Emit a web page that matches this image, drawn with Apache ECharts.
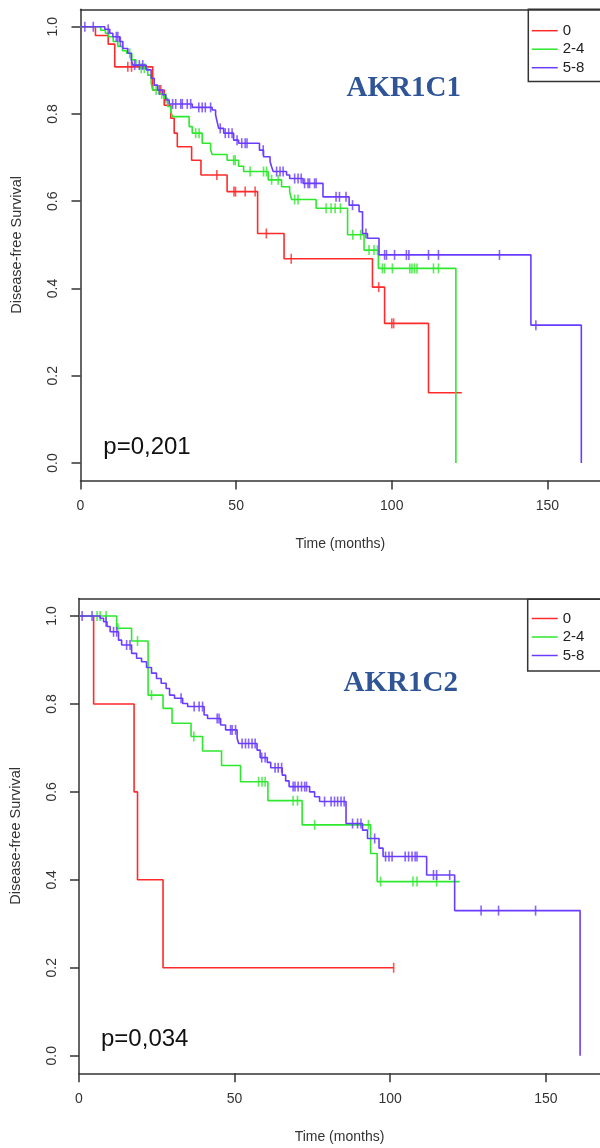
<!DOCTYPE html>
<html><head><meta charset="utf-8">
<script src="https://cdn.jsdelivr.net/npm/echarts@6/dist/echarts.min.js"></script>
<style>html,body{margin:0;padding:0;background:#fff;overflow:hidden}#c{width:600px;height:1148px}</style>
</head><body><div id="c"></div><script>
// ---------- DATA (time in months, survival probability) ----------
const groupNames = ['0', '2-4', '5-8'];
const yTicks = [0, 0.2, 0.4, 0.6, 0.8, 1.0];
const xTicks = [0, 50, 100, 150];
const titles = ['AKR1C1', 'AKR1C2'];
const pValues = ['p=0,201', 'p=0,034'];

// AKR1C1 panel
const c1Red = [[0,1],[4.8,0.98],[8.9,0.96],[11.0,0.908],[23.2,0.855],[26.9,0.82],[29.0,0.79],[30.1,0.756],[31.1,0.725],[35.7,0.694],[38.7,0.66],[47.1,0.622],[56.9,0.526],[65.4,0.468],[93.8,0.403],[97.7,0.32],[111.8,0.161],[122.5,0.161]];
const c1RedCens = [15.2,16.4,25.8,43.8,49.3,49.8,52.9,56.1,59.7,67.7,95.8,100.0,100.6];
const c1Green = [[0,1],[6.5,0.992],[8.0,0.985],[9.0,0.977],[10.5,0.966],[12.0,0.955],[13.5,0.945],[14.8,0.939],[16.5,0.924],[17.8,0.912],[19.0,0.905],[21.6,0.889],[22.7,0.870],[23.2,0.855],[25.3,0.846],[26.9,0.836],[28.0,0.817],[29.0,0.805],[29.6,0.794],[34.9,0.771],[35.9,0.756],[39.1,0.733],[41.8,0.718],[42.3,0.707],[47.1,0.694],[50.8,0.68],[52.4,0.668],[60.3,0.649],[64.6,0.633],[67.2,0.622],[67.8,0.604],[75.7,0.584],[85.8,0.523],[91.1,0.488],[95.7,0.446],[120.6,0.446],[120.6,0]];
const c1GreenCens = [15.8,19.5,20.5,24.3,26.1,27.4,37.0,38.1,49.2,49.7,54.5,58.8,59.8,61.4,63.5,68.8,69.9,78.9,80.5,81.8,83.5,87.5,90.0,92.7,94.3,95.4,97.0,97.7,100.2,105.8,106.5,107.3,108.1,113.4,115.0];
const c1Blue = [[0,1],[7.8,0.994],[9.4,0.985],[10.4,0.977],[12.6,0.966],[13.6,0.95],[15.2,0.939],[16.3,0.924],[16.8,0.912],[21.1,0.901],[22.7,0.882],[23.7,0.866],[24.8,0.855],[26.4,0.844],[27.4,0.832],[28.5,0.823],[35.9,0.815],[42.3,0.809],[43.4,0.798],[43.9,0.782],[44.4,0.767],[46.0,0.756],[49.2,0.74],[50.8,0.733],[57.5,0.717],[58.8,0.702],[60.9,0.691],[61.4,0.679],[61.9,0.668],[66.2,0.66],[67.2,0.652],[71.5,0.641],[77.9,0.61],[86.3,0.591],[89.5,0.576],[90.6,0.526],[92.2,0.515],[95.9,0.477],[144.7,0.316],[160.9,0.316],[160.9,0]];
const c1BlueCens = [1.4,4.1,8.9,11.5,12.0,12.8,17.4,18.9,20.0,25.3,29.6,30.6,32.2,32.7,34.3,35.4,38.0,39.1,40.1,41.8,44.9,46.5,47.6,48.7,50.3,51.8,52.9,53.5,58.7,63.0,64.1,65.1,68.8,69.9,70.9,72.0,73.1,73.6,75.2,75.7,82.1,83.2,85.3,87.4,91.7,97.7,98.3,100.9,104.7,105.5,111.8,115.0,134.6,146.3];

// AKR1C2 panel
const c2Red = [[0,1],[4.7,0.8],[17.7,0.6],[18.8,0.4],[27.0,0.2],[101.1,0.2]];
const c2RedCens = [101.1];
const c2Green = [[0,1],[12.1,0.972],[16.9,0.943],[22.2,0.82],[27.0,0.79],[29.9,0.756],[36.0,0.726],[39.7,0.693],[45.8,0.66],[51.9,0.623],[60.7,0.58],[71.7,0.525],[93.7,0.46],[95.8,0.396],[122.3,0.396]];
const c2GreenCens = [5.8,6.8,8.7,12.5,18.8,23.3,36.9,57.7,58.8,59.8,68.8,70.2,75.7,93.0,96.9,107.3,108.6,114.9];
const c2Blue = [[0,1],[6.8,0.995],[7.9,0.987],[9.0,0.976],[10.0,0.964],[12.7,0.945],[13.7,0.934],[16.9,0.915],[18.5,0.904],[20.1,0.896],[21.7,0.883],[23.3,0.87],[24.9,0.858],[26.4,0.847],[28.0,0.835],[29.1,0.82],[30.7,0.813],[33.3,0.801],[34.9,0.794],[40.2,0.775],[41.3,0.767],[45.5,0.752],[47.1,0.741],[50.8,0.722],[51.3,0.71],[57.2,0.695],[58.2,0.678],[60.5,0.667],[61.6,0.655],[65.3,0.638],[66.4,0.625],[67.5,0.612],[74.1,0.6],[75.7,0.589],[77.3,0.578],[85.8,0.528],[91.1,0.513],[92.7,0.494],[96.4,0.472],[97.7,0.453],[111.7,0.411],[120.7,0.33],[161.0,0.33],[161.0,0]];
const c2BlueCens = [1.0,4.2,8.7,11.1,12.1,15.3,16.4,32.8,37.0,38.6,39.7,44.4,45.0,48.7,49.2,50.3,52.4,53.5,54.5,55.6,56.6,58.7,59.8,63.0,64.0,65.1,68.8,69.4,70.4,71.5,72.5,73.1,78.9,81.0,82.1,83.1,84.2,85.2,87.9,89.5,90.6,95.0,98.5,99.6,100.6,104.8,105.9,107.0,108.0,108.6,113.9,114.9,119.1,129.2,134.8,146.7];

// ---------- STYLE / LAYOUT ----------
const colors = ['#ff2a2a', '#2ee82e', '#6a3cff'];
const FONT = '"Liberation Sans", Arial, sans-serif';
const panels = [
  {curves:[c1Red,c1Green,c1Blue], cens:[c1RedCens,c1GreenCens,c1BlueCens], left:80.5, top:9.25, height:471.2, width:522.5, xmax:166.9,
   title:[403.7,89], p:[103.3,447], legendTop:23.2, box:[528.3,9.3,90,72.2]},
  {curves:[c2Red,c2Green,c2Blue], cens:[c2RedCens,c2GreenCens,c2BlueCens], left:78.3, top:598.4, height:474.9, width:524.7, xmax:167.4,
   title:[400.8,683.7], p:[101,1039.5], legendTop:611, box:[527.7,599.3,90,71.7]}
];

function survAt(curve, t) {
  let s = curve[0][1];
  for (const [tt, v] of curve) { if (tt <= t) s = v; else break; }
  return s;
}

const grid = [], xAxis = [], yAxis = [], series = [], legend = [], graphic = [];
panels.forEach((P, i) => {
  grid.push({left: P.left, top: P.top, width: P.width, height: P.height});
  xAxis.push({
    gridIndex: i, type: 'value', min: 0, max: P.xmax, position: 'bottom',
    axisLine: {show: true, onZero: false, lineStyle: {color: '#333', width: 1.5}},
    axisTick: {show: true, length: 9, customValues: xTicks, lineStyle: {color: '#333', width: 1.5}},
    axisLabel: {customValues: xTicks, margin: 19, fontSize: 14, color: '#333', fontFamily: FONT},
    splitLine: {show: false},
    name: 'Time (months)', nameLocation: 'middle', nameGap: 57,
    nameTextStyle: {fontSize: 14, color: '#333', fontFamily: FONT}
  });
  xAxis.push({
    gridIndex: i, type: 'value', min: 0, max: P.xmax, position: 'top',
    axisLine: {show: true, onZero: false, lineStyle: {color: '#333', width: 1.5}},
    axisTick: {show: false}, axisLabel: {show: false}, splitLine: {show: false}
  });
  yAxis.push({
    gridIndex: i, type: 'value', min: -0.04, max: 1.04,
    axisLine: {show: true, onZero: false, lineStyle: {color: '#333', width: 1.5}},
    axisTick: {show: true, length: 9, customValues: yTicks, lineStyle: {color: '#333', width: 1.5}},
    axisLabel: {customValues: yTicks, rotate: 90, margin: 20, fontSize: 14, color: '#333', fontFamily: FONT,
      formatter: v => v.toFixed(1)},
    splitLine: {show: false},
    name: 'Disease-free Survival', nameLocation: 'middle', nameGap: 56,
    nameTextStyle: {fontSize: 14.5, color: '#333', fontFamily: FONT}
  });
  P.curves.forEach((curve, k) => {
    series.push({
      name: groupNames[k], type: 'line', step: 'end', xAxisIndex: 2 * i, yAxisIndex: i,
      data: curve, showSymbol: false, symbol: 'none', color: colors[k],
      lineStyle: {color: colors[k], width: 1.6}, animation: false, z: 2 + k
    });
    series.push({
      name: groupNames[k] + ' censored', type: 'scatter', xAxisIndex: 2 * i, yAxisIndex: i,
      data: P.cens[k].map(t => [t, survAt(curve, t)]),
      symbol: 'rect', symbolSize: [1.6, 10], itemStyle: {color: colors[k]},
      animation: false, z: 2 + k, silent: true
    });
  });
  legend.push({
    data: groupNames, orient: 'vertical', left: 531.7, top: P.legendTop, padding: 0,
    itemGap: 3.5, itemWidth: 26, itemHeight: 15,
    icon: 'path://M0,0 L26,0 L26,1.5 L0,1.5 Z',
    textStyle: {fontSize: 15, color: '#222', fontFamily: FONT}, selectedMode: false
  });
  graphic.push({type: 'rect', shape: {x: P.box[0], y: P.box[1], width: P.box[2], height: P.box[3]},
    style: {fill: 'none', stroke: '#333', lineWidth: 1.5}, z: 10});
  graphic.push({type: 'text', x: P.title[0], y: P.title[1],
    style: {text: titles[i], fill: '#2f5597', font: 'bold 29px "Liberation Serif", "Times New Roman", serif',
      textAlign: 'center', textVerticalAlign: 'middle'}, z: 10});
  graphic.push({type: 'text', x: P.p[0], y: P.p[1],
    style: {text: pValues[i], fill: '#111', font: '24px ' + FONT, textAlign: 'left', textVerticalAlign: 'middle'}, z: 10});
});

const chart = echarts.init(document.getElementById('c'), null, {renderer: 'canvas'});
chart.setOption({backgroundColor: '#fff', animation: false, grid, xAxis, yAxis, series, legend, graphic});
</script></body></html>
